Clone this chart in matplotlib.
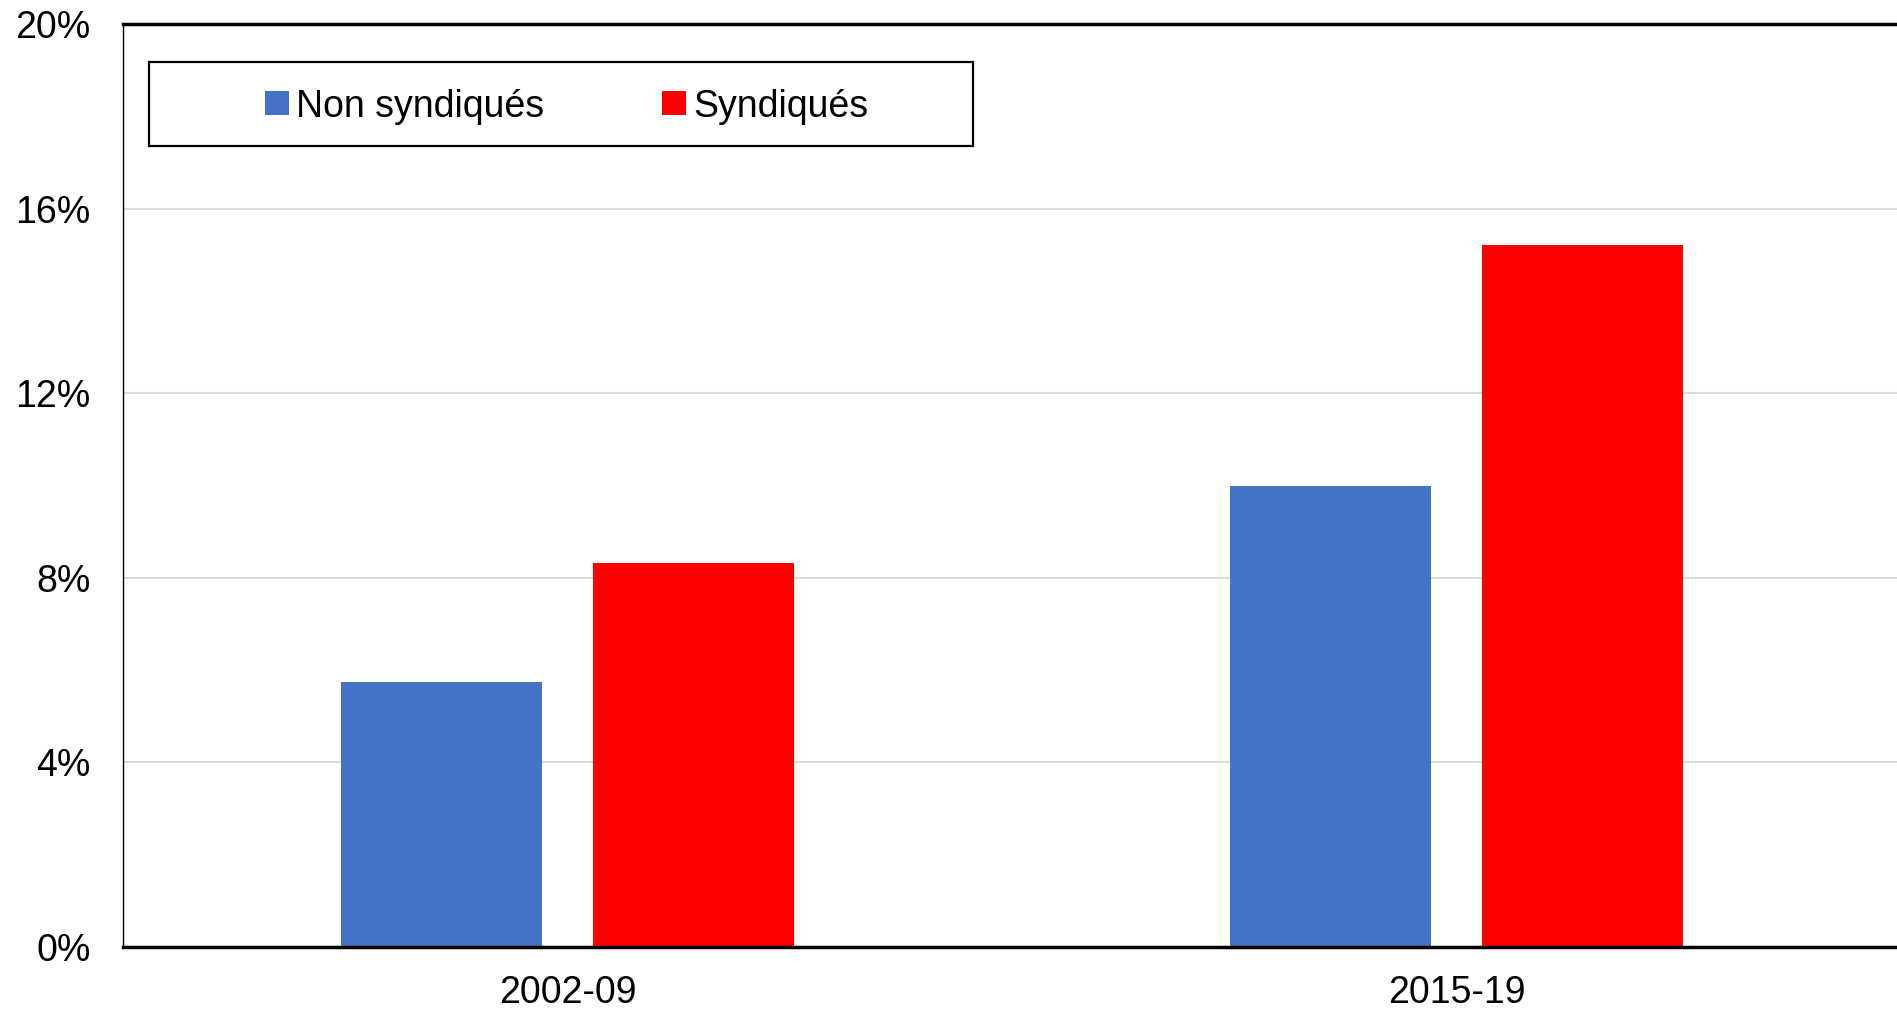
import matplotlib
matplotlib.use("Agg")
import matplotlib.pyplot as plt
import numpy as np
from matplotlib.patches import Rectangle, Patch
from matplotlib.ticker import FixedLocator, FuncFormatter

plt.rcParams['font.family'] = ['Liberation Sans', 'DejaVu Sans']

categories = ["2002-09", "2015-19"]
series_names = ["Non syndiqués", "Syndiqués"]
non_syndiques = [5.75, 9.99]
syndiques = [8.31, 15.22]
y_ticks = [0, 4, 8, 12, 16, 20]

colors = ["#4472C4", "#FF0000"]
FS = 27.0

fig = plt.figure(figsize=(18.97, 10.09), dpi=100)
ax = fig.add_axes([0.0650, 0.0617, 0.9370, 0.9142])

x = np.arange(len(categories))
w = 0.226
off = 0.1417
ax.bar(x - off, non_syndiques, width=w, color=colors[0], zorder=3)
ax.bar(x + off, syndiques, width=w, color=colors[1], zorder=3)

ax.set_xlim(-0.5, 1.5)
ax.set_ylim(0, 20)
ax.yaxis.set_major_locator(FixedLocator(y_ticks))
ax.yaxis.set_major_formatter(FuncFormatter(lambda v, p: f"{v:.0f}%"))
ax.set_xticks(x)
ax.set_xticklabels(categories)
ax.tick_params(axis='y', length=0, pad=23.5, labelsize=FS)
ax.tick_params(axis='x', length=0, pad=20, labelsize=FS)

ax.grid(axis='y', color='#d9d9d9', linewidth=1.5, zorder=0)
ax.set_axisbelow(True)

ax.spines['right'].set_visible(False)
ax.spines['left'].set_linewidth(1.0)
ax.spines['top'].set_linewidth(2.5)
ax.spines['bottom'].set_linewidth(2.5)
for s in ax.spines.values():
    s.set_color('black')
    s.set_zorder(4)

# legend box (axes fraction)
AW = 0.9370 * 1897
x0 = (149 - 123.4) / AW
x1 = (973 - 123.4) / AW
y1 = 1 - (62 - 24.3) / 922.4
y0 = 1 - (146 - 24.3) / 922.4
ax.add_patch(Rectangle((x0, y0), x1 - x0, y1 - y0, transform=ax.transAxes,
                       facecolor='white', edgecolor='black', linewidth=1.6, zorder=5))
handles = [Patch(facecolor=c, edgecolor='none') for c in colors]
leg = ax.legend(handles, series_names, loc='center',
                bbox_to_anchor=((x0 + x1) / 2 + 6 / AW, (y0 + y1) / 2 - 2.5 / 922.4),
                ncol=2, frameon=False, fontsize=FS,
                handlelength=0.62, handleheight=0.62, handletextpad=0.2,
                columnspacing=3.15, borderpad=0, borderaxespad=0)
leg.set_zorder(6)

fig.savefig("out.png", dpi=100)
